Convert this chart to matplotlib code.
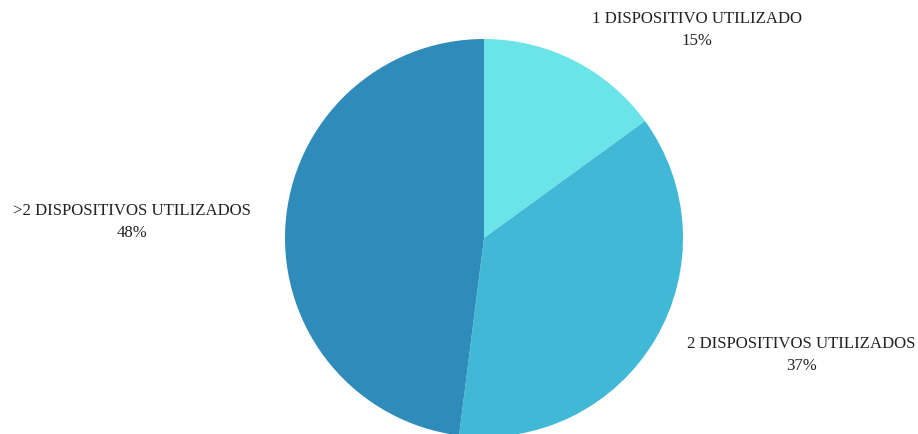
import matplotlib.pyplot as plt

labels = ["1 DISPOSITIVO UTILIZADO", "2 DISPOSITIVOS UTILIZADOS", ">2 DISPOSITIVOS UTILIZADOS"]
shares = [15, 37, 48]
colors = ["#6ae4e8", "#42b8d7", "#2e8bba"]
# label anchor points in pie-radius units
label_xy = [(1.07, 1.05), (1.593, -0.585), (-1.769, 0.085)]

plt.rcParams["font.family"] = ["Liberation Serif", "DejaVu Serif"]

fig = plt.figure(figsize=(9.18, 4.35), dpi=100)
ax = fig.add_axes([285 / 918, -3 / 435, 398 / 918, 398 / 435])

wedges, _ = ax.pie(
    shares,
    colors=colors,
    startangle=90,
    counterclock=False,
    radius=1,
    wedgeprops={"linewidth": 0},
)
for w in wedges:
    w.set_clip_on(False)

ax.set_xlim(-1, 1)
ax.set_ylim(-1, 1)
ax.set_aspect("equal")
ax.axis("off")

for label, share, (x, y) in zip(labels, shares, label_xy):
    ax.text(
        x, y, f"{label}\n{share}%",
        ha="center", va="center", multialignment="center",
        fontsize=12.1, color="#222222", linespacing=1.5,
        clip_on=False,
    )

fig.savefig("out.png", dpi=100)
